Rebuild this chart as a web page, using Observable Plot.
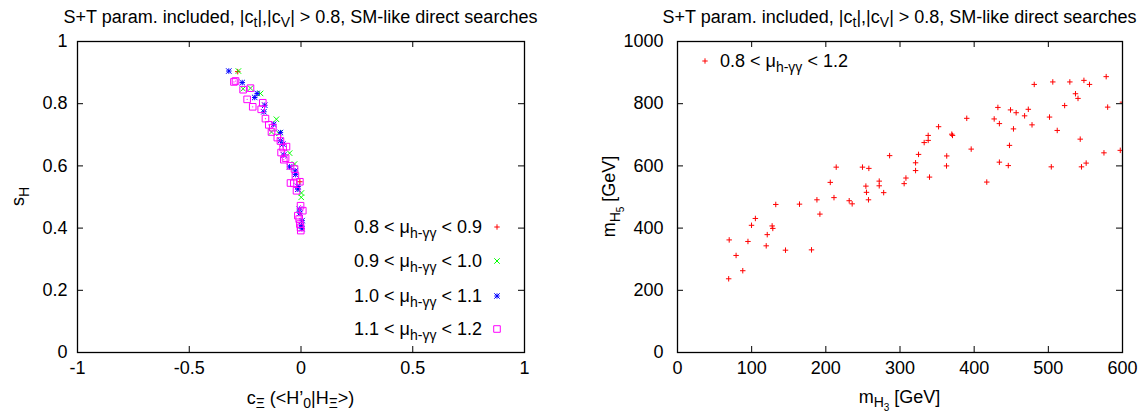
<!DOCTYPE html>
<html><head><meta charset="utf-8">
<script src="https://cdn.jsdelivr.net/npm/d3@7"></script>
<script src="https://cdn.jsdelivr.net/npm/@observablehq/plot@0.6"></script>
<style>
body{margin:0;background:#fff}
#wrap{display:flex;width:1146px;height:416px;overflow:hidden}
</style>
</head><body><div id="wrap"></div>
<script>
// ---------- data ----------
const leftXTicks = [-1, -0.5, 0, 0.5, 1];
const leftYTicks = [0, 0.2, 0.4, 0.6, 0.8, 1];
const rightXTicks = [0, 100, 200, 300, 400, 500, 600];
const rightYTicks = [0, 200, 400, 600, 800, 1000];

const seriesLabels = ["0.8 < μ", "0.9 < μ", "1.0 < μ", "1.1 < μ"];
const seriesUpper = ["0.9", "1.0", "1.1", "1.2"];

// [c_Xi, s_H]
const red0809 = [[-0.283, 0.903], [-0.005, 0.549]];
const green0910 = [[-0.280, 0.905], [-0.259, 0.848], [-0.226, 0.850], [-0.181, 0.833], [-0.110, 0.750],
  [-0.132, 0.709], [-0.099, 0.705], [-0.051, 0.641], [-0.029, 0.606], [0.002, 0.513], [0.001, 0.499]];
const blue1011 = [[-0.323, 0.905], [-0.263, 0.868], [-0.196, 0.833], [-0.207, 0.820], [-0.162, 0.795],
  [-0.166, 0.774], [-0.122, 0.734], [-0.092, 0.707], [-0.092, 0.681], [-0.081, 0.670], [-0.077, 0.635],
  [-0.051, 0.597], [-0.026, 0.584], [-0.025, 0.572], [-0.014, 0.534], [-0.014, 0.525], [-0.007, 0.461],
  [-0.005, 0.448], [0.005, 0.424], [0.002, 0.408], [0.004, 0.398]];
const magenta1112 = [[-0.300, 0.870], [-0.293, 0.873], [-0.259, 0.845], [-0.226, 0.850], [-0.241, 0.814],
  [-0.216, 0.790], [-0.171, 0.803], [-0.178, 0.782], [-0.159, 0.752], [-0.144, 0.732], [-0.126, 0.723],
  [-0.132, 0.709], [-0.106, 0.691], [-0.092, 0.680], [-0.065, 0.662], [-0.080, 0.659], [-0.089, 0.643],
  [-0.077, 0.620], [-0.069, 0.625], [-0.047, 0.600], [-0.029, 0.590], [-0.025, 0.568], [-0.047, 0.545],
  [-0.032, 0.544], [-0.005, 0.549], [-0.020, 0.520], [-0.002, 0.472], [0.008, 0.456], [-0.014, 0.440],
  [-0.008, 0.429], [-0.005, 0.413], [-0.002, 0.402], [-0.001, 0.392]];

// [m_H3, m_H5] in GeV
const massPoints = [[69.7, 362], [79, 312], [88, 263], [69, 237], [95, 357], [99.8, 409], [105, 431],
  [121, 379], [119.6, 343], [127.6, 407], [128.5, 399], [132.5, 476], [145.6, 329], [164.5, 477],
  [180.7, 330], [188, 491], [192, 445], [206, 547], [211, 498], [214, 596], [231.5, 488], [235.5, 478],
  [249.4, 596], [254, 535], [254.8, 515], [257.5, 491], [258, 592], [272, 551], [272, 536], [278, 514],
  [286, 633], [305.6, 543], [308, 561], [321, 585], [321, 610], [325, 637], [332.6, 675], [338, 682],
  [338, 698], [339.8, 564], [352, 726], [363, 632], [362.7, 600], [369.8, 702], [370.8, 698], [390, 753],
  [396, 654], [417, 548], [427, 751], [432, 788], [434, 736], [434, 612], [446, 601], [447.6, 666],
  [449, 780], [453, 719], [456.6, 771], [468, 761], [473, 782], [478, 732], [481, 862], [501.6, 757],
  [504, 597], [506, 870], [512, 714], [522, 794], [529, 870], [536.6, 832], [540, 817], [543, 686],
  [544.7, 597], [548, 875], [551, 609], [555.5, 862], [575, 642], [578, 887], [580, 789], [597, 650],
  [600, 805]];

// ---------- styling ----------
const FONT = "'Liberation Sans', Arial, Helvetica, sans-serif";
const FS = 18;
const RED = "#ff0000", GREEN = "#00ff00", BLUE = "#0000ff", MAGENTA = "#ff00ff";
const W = 573, H = 416, MT = 41, MB = 64;
const fmt = d => String(d);

function innerTicks(ticks, {x, y, w, h}) {
  const inner = ticks.slice(1, -1);
  const L = 6;
  if (x) return [
    Plot.ruleX(inner, {x: d => d, insetTop: h - L, stroke: "black", strokeWidth: 1}),
    Plot.ruleX(inner, {x: d => d, insetBottom: h - L, stroke: "black", strokeWidth: 1})
  ];
  return [
    Plot.ruleY(inner, {y: d => d, insetRight: w - L, stroke: "black", strokeWidth: 1}),
    Plot.ruleY(inner, {y: d => d, insetLeft: w - L, stroke: "black", strokeWidth: 1})
  ];
}

function dots(data, symbol, r, color) {
  return Plot.dot(data, {x: d => d[0], y: d => d[1], symbol, r, stroke: color, fill: "none", strokeWidth: 1});
}

// ---------- left panel ----------
const LML = 77, LMR = 49;
const lw = W - LML - LMR, lh = H - MT - MB;
const left = Plot.plot({
  width: W, height: H, marginLeft: LML, marginRight: LMR, marginTop: MT, marginBottom: MB,
  style: {fontFamily: FONT, fontSize: FS + "px", background: "white", color: "black"},
  x: {domain: [-1, 1]}, y: {domain: [0, 1]},
  marks: [
    Plot.axisX({ticks: leftXTicks, tickSize: 0, tickPadding: 9, tickFormat: fmt, label: null}),
    Plot.axisY({ticks: leftYTicks, tickSize: 0, tickPadding: 10, tickFormat: fmt, label: null}),
    ...innerTicks(leftXTicks, {x: true, w: lw, h: lh}),
    ...innerTicks(leftYTicks, {y: true, w: lw, h: lh}),
    dots(red0809, "plus", 1.9, RED),
    dots(green0910, "times", 2.6, GREEN),
    dots(blue1011, "plus", 1.9, BLUE),
    dots(blue1011, "times", 2.6, BLUE),
    dots(magenta1112, "square2", 4.2, MAGENTA),
    Plot.dot(magenta1112, {x: d => d[0], y: d => d[1], r: 0.6, fill: MAGENTA}),
    Plot.frame({stroke: "black", strokeWidth: 1.3})
  ]
});

// ---------- right panel ----------
const RML = 104, RMR = 24;
const rw = W - RML - RMR, rh = H - MT - MB;
const right = Plot.plot({
  width: W, height: H, marginLeft: RML, marginRight: RMR, marginTop: MT, marginBottom: MB,
  style: {fontFamily: FONT, fontSize: FS + "px", background: "white", color: "black"},
  x: {domain: [0, 600]}, y: {domain: [0, 1000]},
  marks: [
    Plot.axisX({ticks: rightXTicks, tickSize: 0, tickPadding: 9, tickFormat: fmt, label: null}),
    Plot.axisY({ticks: rightYTicks, tickSize: 0, tickPadding: 14, tickFormat: fmt, label: null}),
    ...innerTicks(rightXTicks, {x: true, w: rw, h: rh}),
    ...innerTicks(rightYTicks, {y: true, w: rw, h: rh}),
    Plot.dot(massPoints, {x: d => d[0], y: d => d[1], symbol: "plus", r: 1.9, stroke: RED, fill: "none", strokeWidth: 1, clip: true}),
    Plot.frame({stroke: "black", strokeWidth: 1.3})
  ]
});

const wrap = document.getElementById("wrap");
wrap.appendChild(left);
wrap.appendChild(right);

// ---------- texts ----------
const SUB = 'font-size="14"';
function txt(svg, x, y, html, {anchor = "middle", rotate = false, size = FS} = {}) {
  const t = d3.select(svg).append("text")
    .attr("x", x).attr("y", y)
    .attr("text-anchor", anchor)
    .attr("font-family", FONT).attr("font-size", size).attr("fill", "black");
  if (rotate) t.attr("transform", `rotate(-90 ${x} ${y})`);
  t.html(html);
  return t;
}
const titleHTML = `S+T param. included, |c<tspan dy="4" ${SUB}>t</tspan><tspan dy="-4">|,|c</tspan><tspan dy="4" ${SUB}>V</tspan><tspan dy="-4">| &gt; 0.8, SM-like direct searches</tspan>`;
const muSub = `μ<tspan dy="5" ${SUB}>h-γγ</tspan>`;

// left
const lcx = LML + lw / 2;
txt(left, lcx, 23, titleHTML);
txt(left, lcx, 404, `c<tspan dy="4" ${SUB}>Ξ</tspan><tspan dy="-4"> (&lt;H’</tspan><tspan dy="4" ${SUB}>0</tspan><tspan dy="-4">|H</tspan><tspan dy="4" ${SUB}>Ξ</tspan><tspan dy="-4">&gt;)</tspan>`);
txt(left, 24, MT + lh / 2, `s<tspan dy="5" ${SUB}>H</tspan>`, {rotate: true});

const legendColors = [RED, GREEN, BLUE, MAGENTA];
const legendY = [227, 261, 296, 329];
const legendSym = [[d3.symbolPlus, 11], [d3.symbolTimes, 21], null, [d3.symbolSquare2, 55]];
seriesLabels.forEach((lab, i) => {
  txt(left, 482, legendY[i] + 6, `${lab.replace("μ", "")}${muSub}<tspan dy="-5"> &lt; ${seriesUpper[i]}</tspan>`, {anchor: "end"});
  const g = d3.select(left).append("g").attr("transform", `translate(497,${legendY[i]})`)
    .attr("fill", "none").attr("stroke", legendColors[i]).attr("stroke-width", 1);
  const syms = legendSym[i] ? [legendSym[i]] : [[d3.symbolPlus, 11], [d3.symbolTimes, 21]];
  syms.forEach(([s, size]) => g.append("path").attr("d", d3.symbol(s, size)()));
});

// right
const rcx = RML + rw / 2;
txt(right, rcx, 23, titleHTML);
txt(right, rcx, 403, `m<tspan dy="4" ${SUB}>H</tspan><tspan dy="4" font-size="10">3</tspan><tspan dy="-8"> [GeV]</tspan>`);
txt(right, 42, MT + rh / 2, `m<tspan dy="5" ${SUB}>H</tspan><tspan dy="4" font-size="10">5</tspan><tspan dy="-9"> [GeV]</tspan>`, {rotate: true});
txt(right, 147, 67, `0.8 &lt; ${muSub}<tspan dy="-5"> &lt; 1.2</tspan>`, {anchor: "start"});
d3.select(right).append("path").attr("transform", "translate(132,61)")
  .attr("d", d3.symbol(d3.symbolPlus, 11)()).attr("fill", "none").attr("stroke", RED).attr("stroke-width", 1);
</script>
</body></html>
